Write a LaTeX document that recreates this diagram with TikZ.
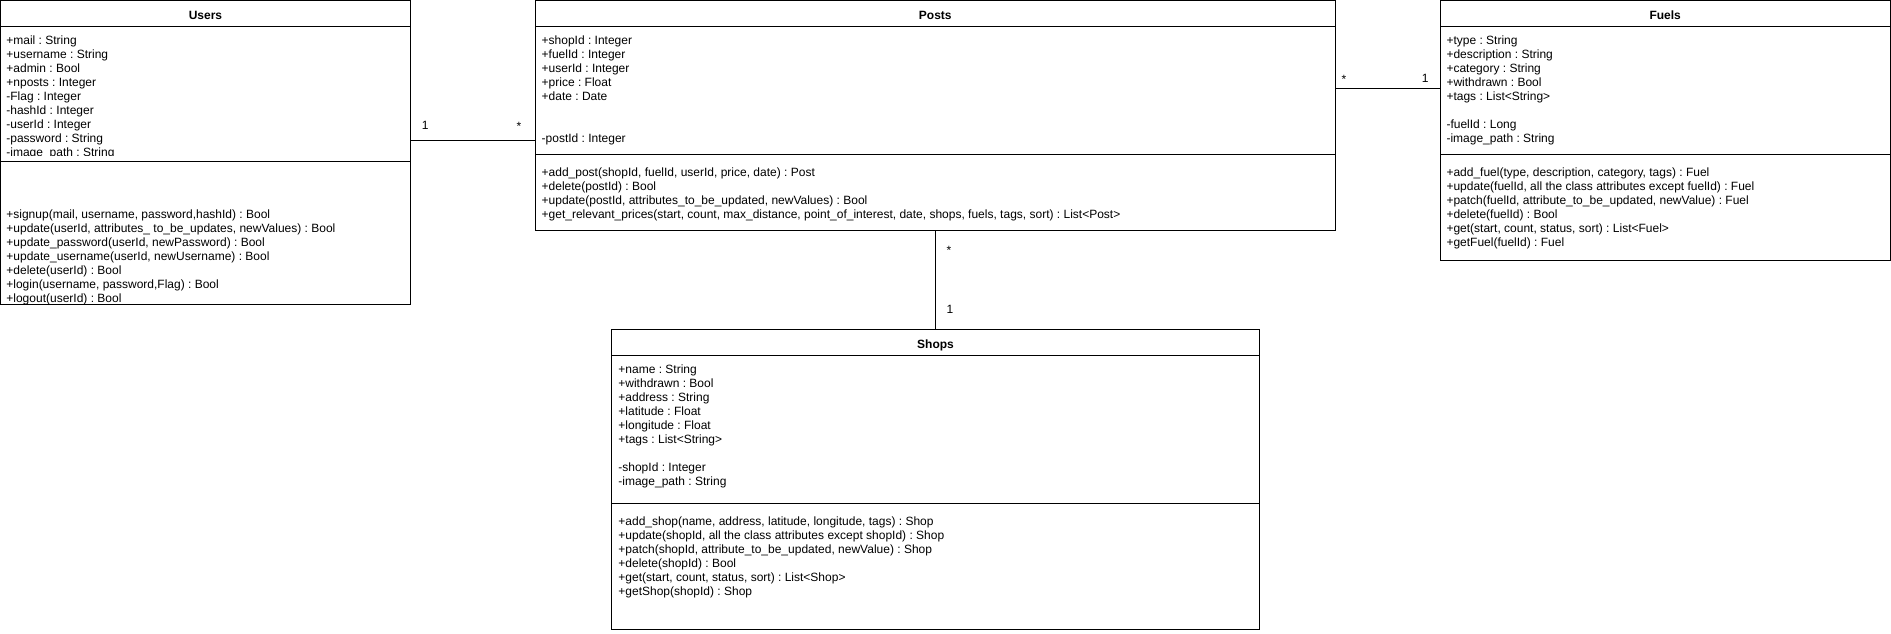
\documentclass[tikz,border=0pt]{standalone}
\usepackage{fontspec}
\setmainfont{Liberation Sans}
\frenchspacing
\tikzset{
  classbox/.style={draw=black, line width=1pt, inner sep=0pt, outer sep=0pt, anchor=north west, fill=white},
  sepline/.style={draw=black, line width=1pt},
  conn/.style={draw=black, line width=1pt},
  title/.style={anchor=base, inner sep=0pt, font=\fontsize{12}{14}\selectfont\bfseries},
  txt/.style={anchor=base west, inner sep=0pt, font=\fontsize{12}{14}\selectfont\frenchspacing},
  mult/.style={anchor=base, inner sep=0pt, font=\fontsize{12}{14}\selectfont}
}
\newcommand{\lines}[1]{\begin{tabular}[t]{@{}l@{}}#1\end{tabular}}
\begin{document}
\begin{tikzpicture}[x=1pt,y=-1pt]
\useasboundingbox[fill=white] (0,0) rectangle (1891,633);

% ---------- boxes ----------
\node[classbox, minimum width=410pt, minimum height=303.5pt] (users) at (0.5,0.5) {};
\node[classbox, minimum width=800.2pt, minimum height=229.5pt] (posts) at (535.2,0.5) {};
\node[classbox, minimum width=450.1pt, minimum height=259.5pt] (fuels) at (1440.2,0.5) {};
\node[classbox, minimum width=647.5pt, minimum height=300pt] (shops) at (611.7,329) {};

% compartment lines
\draw[sepline] (0.5,26.3) -- (410.5,26.3);
\draw[sepline] (0.5,161.3) -- (410.5,161.3);
\draw[sepline] (535.2,26.3) -- (1335.4,26.3);
\draw[sepline] (535.2,154.3) -- (1335.4,154.3);
\draw[sepline] (1440.2,26.3) -- (1890.3,26.3);
\draw[sepline] (1440.2,154.3) -- (1890.3,154.3);
\draw[sepline] (611.7,355.7) -- (1259.2,355.7);
\draw[sepline] (611.7,503.3) -- (1259.2,503.3);

% ---------- titles ----------
\node[title] (usersT) at (205.5,19) {Users};
\node[title] (postsT) at (935.3,19) {Posts};
\node[title] (fuelsT) at (1665.2,19) {Fuels};
\node[title] (shopsT) at (935.5,348) {Shops};

% ---------- Users ----------
\begin{scope}
\clip (1,27) rectangle (410,155.5);
\node[txt] (usersA) at (6.2,44) {\lines{+mail : String\\+username : String\\+admin : Bool\\+nposts : Integer\\-Flag : Integer\\-hashId : Integer\\-userId : Integer\\-password : String\\-image\_path : String}};
\end{scope}
\begin{scope}
\clip (1,162) rectangle (410,303);
\node[txt] (usersM) at (6.2,218) {\lines{+signup(mail, username, password,hashId) : Bool\\+update(userId, attributes\_ to\_be\_updates, newValues) : Bool\\+update\_password(userId, newPassword) : Bool\\+update\_username(userId, newUsername) : Bool\\+delete(userId) : Bool\\+login(username, password,Flag) : Bool\\+logout(userId) : Bool}};
\end{scope}

% ---------- Posts ----------
\node[txt] (postsA) at (541.5,44) {\lines{+shopId : Integer\\+fuelId : Integer\\+userId : Integer\\+price : Float\\+date : Date\\ \\ \\-postId : Integer}};
\node[txt] (postsM) at (541.5,176) {\lines{+add\_post(shopId, fuelId, userId, price, date) : Post\\+delete(postId) : Bool\\+update(postId, attributes\_to\_be\_updated, newValues) : Bool\\+get\_relevant\_prices(start, count, max\_distance, point\_of\_interest, date, shops, fuels, tags, sort) : List<Post>}};

% ---------- Fuels ----------
\node[txt] (fuelsA) at (1446.3,44) {\lines{+type : String\\+description : String\\+category : String\\+withdrawn : Bool\\+tags : List<String>\\ \\-fuelId : Long\\-image\_path : String}};
\node[txt] (fuelsM) at (1446.3,176) {\lines{+add\_fuel(type, description, category, tags) : Fuel\\+update(fuelId, all the class attributes except fuelId) : Fuel\\+patch(fuelId, attribute\_to\_be\_updated, newValue) : Fuel\\+delete(fuelId) : Bool\\+get(start, count, status, sort) : List<Fuel>\\+getFuel(fuelId) : Fuel}};

% ---------- Shops ----------
\node[txt] (shopsA) at (618.2,373) {\lines{+name : String\\+withdrawn : Bool\\+address : String\\+latitude : Float\\+longitude : Float\\+tags : List<String>\\ \\-shopId : Integer\\-image\_path : String}};
\node[txt] (shopsM) at (618.2,525.3) {\lines{+add\_shop(name, address, latitude, longitude, tags) : Shop\\+update(shopId, all the class attributes except shopId) : Shop\\+patch(shopId, attribute\_to\_be\_updated, newValue) : Shop\\+delete(shopId) : Bool\\+get(start, count, status, sort) : List<Shop>\\+getShop(shopId) : Shop}};

% ---------- connectors ----------
\coordinate (c1) at (0,140.3);
\coordinate (c2) at (0,88.3);
\draw[conn] (users.east |- c1) -- (posts.west |- c1);
\draw[conn] (posts.east |- c2) -- (fuels.west |- c2);
\draw[conn] (posts.south) -- (posts.south |- shops.north);

% multiplicities
\node[mult] (m1) at (425.3,129.3) {1};
\node[mult] (m2) at (519,130) {*};
\node[mult] (m3) at (1344,83) {*};
\node[mult] (m4) at (1425.2,82.3) {1};
\node[mult] (m5) at (949,254.5) {*};
\node[mult] (m6) at (950,313) {1};
\end{tikzpicture}
\end{document}
